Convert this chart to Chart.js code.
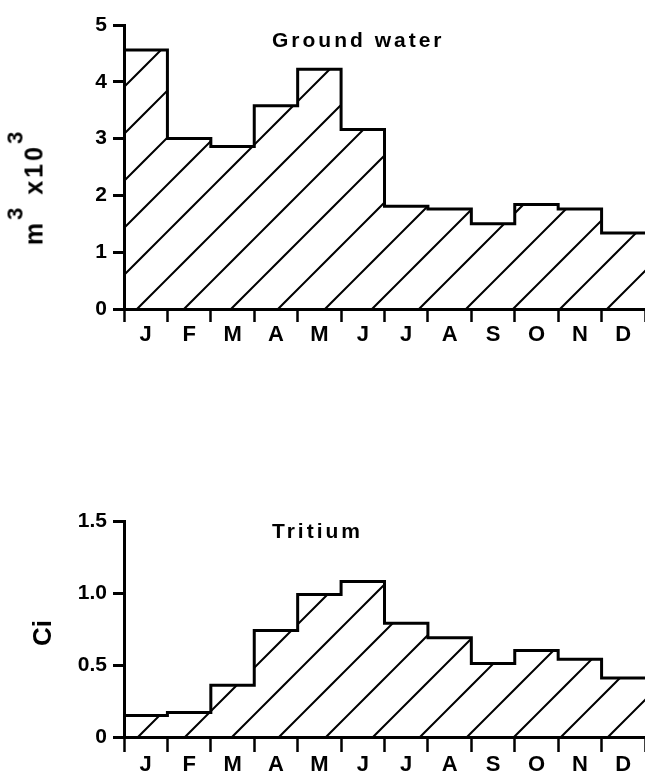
<!DOCTYPE html>
<html><head><meta charset="utf-8">
<script src="https://cdn.jsdelivr.net/npm/chart.js@4/dist/chart.umd.min.js"></script>
<style>
html,body{margin:0;padding:0;background:#fff;width:645px;height:778px;overflow:hidden;}
#wrap{position:relative;width:645px;height:778px;font-family:"Liberation Sans",Arial,sans-serif;color:#000;}
canvas{position:absolute;left:0;}
.lbl{position:absolute;white-space:nowrap;font-weight:bold;}
.sup{font-size:22px;vertical-align:20px;line-height:0;}
</style></head><body>
<div id="wrap">
  <canvas id="c1" width="645" height="350" style="top:0px"></canvas>
  <canvas id="c2" width="645" height="298" style="top:480px"></canvas>
  <div class="lbl" style="left:272px;top:29px;font-size:21px;line-height:21px;letter-spacing:3px">Ground water</div>
  <div class="lbl" style="left:272px;top:520px;font-size:21px;line-height:21px;letter-spacing:3px">Tritium</div>
  <div class="lbl" style="left:31px;top:187px;font-size:25px;line-height:25px;letter-spacing:3px;transform:translate(-50%,-50%) rotate(-90deg)">m<span class="sup">3</span> x10<span class="sup">3</span></div>
  <div class="lbl" style="left:42px;top:633px;font-size:26px;line-height:26px;transform:translate(-50%,-50%) rotate(-90deg)">Ci</div>
</div>
<script>
// ---- data ----
const months = ['J','F','M','A','M','J','J','A','S','O','N','D'];
const groundWater = [4.56, 3.0, 2.86, 3.58, 4.22, 3.16, 1.81, 1.76, 1.5, 1.84, 1.76, 1.34];
const tritium = [0.15, 0.17, 0.36, 0.74, 0.99, 1.08, 0.79, 0.69, 0.51, 0.60, 0.54, 0.41];
const gwTicks = [0, 1, 2, 3, 4, 5];
const trTicks = [0, 0.5, 1.0, 1.5];
const gwTickLabels = ['0', '1', '2', '3', '4', '5'];
const trTickLabels = ['0', '0.5', '1.0', '1.5'];

const FONT = '"Liberation Sans", Arial, sans-serif';

function hatch(ctx, offset) {
  const s = 47;
  const c = document.createElement('canvas');
  c.width = s; c.height = s;
  const g = c.getContext('2d');
  g.strokeStyle = '#000';
  g.lineWidth = 2;
  g.beginPath();
  for (const k of [offset - s, offset, offset + s]) {
    g.moveTo(-4, k + 4);
    g.lineTo(k + 4, -4);
  }
  g.stroke();
  return ctx.createPattern(c, 'repeat');
}

function makeChart(id, values, ticksArr, tickLabels, padTop, xTickLen, hatchOffset) {
  const ctx = document.getElementById(id).getContext('2d');
  const pts = values.map((v, i) => ({x: i, y: v}));
  pts.push({x: values.length, y: values[values.length - 1]});
  const yMax = ticksArr[ticksArr.length - 1];
  const yStep = ticksArr[1] - ticksArr[0];
  return new Chart(ctx, {
    type: 'line',
    data: {
      labels: months,
      datasets: [{
        data: pts, xAxisID: 'x2', yAxisID: 'y',
        stepped: 'before', fill: 'origin',
        backgroundColor: hatch(ctx, hatchOffset),
        borderColor: '#000', borderWidth: 3, pointRadius: 0,
        borderJoinStyle: 'miter', borderCapStyle: 'square'
      }]
    },
    options: {
      responsive: false, animation: false, events: [],
      layout: {padding: {top: padTop, left: 0, right: 0, bottom: 0}},
      plugins: {legend: {display: false}, tooltip: {enabled: false}},
      scales: {
        x: {
          type: 'category', position: 'bottom', offset: true,
          grid: {offset: true, drawOnChartArea: false, drawTicks: true, tickLength: xTickLen, tickWidth: 2.5, color: '#000'},
          border: {display: true, width: 3, color: '#000'},
          ticks: {color: '#000', font: {family: FONT, size: 22, weight: 'bold'}, padding: 0, maxRotation: 0, autoSkip: false},
          afterFit(s) { s.height = 41; }
        },
        x2: {type: 'linear', display: false, min: 0, max: months.length},
        y: {
          min: 0, max: yMax,
          ticks: {
            stepSize: yStep, color: '#000', padding: 6,
            font: {family: FONT, size: 21, weight: 'bold'},
            callback: (v) => { const i = ticksArr.findIndex(t => Math.abs(t - v) < 1e-9); return i >= 0 ? tickLabels[i] : ''; }
          },
          grid: {drawOnChartArea: false, tickLength: 11, tickWidth: 3, color: '#000'},
          border: {display: true, width: 3, color: '#000'},
          afterFit(s) { s.width = 124; }
        }
      }
    }
  });
}

makeChart('c1', groundWater, gwTicks, gwTickLabels, 25, 13, 23);
makeChart('c2', tritium, trTicks, trTickLabels, 41, 15, 19);
</script>
</body></html>
